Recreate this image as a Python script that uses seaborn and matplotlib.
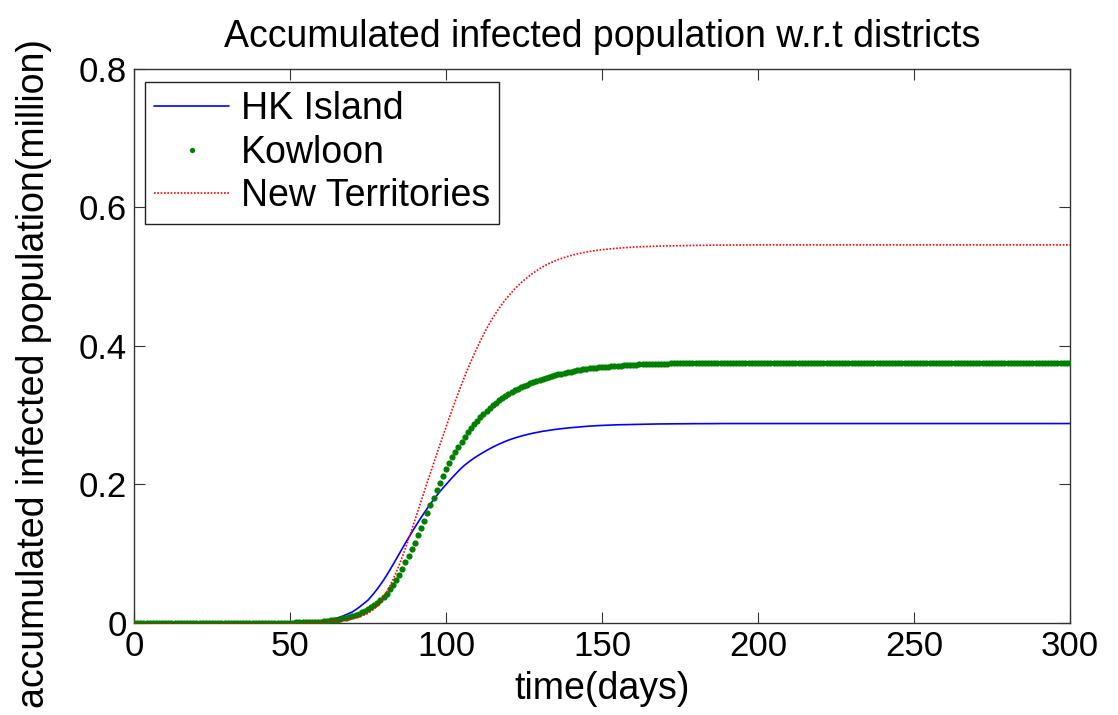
import matplotlib
matplotlib.use("Agg")
import matplotlib.pyplot as plt
from matplotlib.lines import Line2D
import seaborn as sns
import pandas as pd

# ---------------- data (one value per day from day 0) ----------------
series_names = ["HK Island", "Kowloon", "New Territories"]

hk_island = [
    0.0, 0.0, 0.0, 0.0, 0.0, 0.0, 0.0, 0.0, 0.0, 0.0,
    0.0, 0.0, 0.0, 0.0, 0.0, 0.0, 0.0, 0.0, 0.0, 0.0,
    0.0, 0.0, 0.0, 0.0, 0.0, 0.0, 0.0, 0.0, 0.0, 0.0,
    0.0, 0.0, 0.0, 0.0, 0.0, 0.0, 0.0, 0.0, 0.0, 0.0,
    0.0, 0.0, 0.0, 0.0, 0.0, 0.0, 0.0, 0.0, 0.0, 0.0,
    0.0005, 0.0006, 0.0007, 0.0008, 0.0009, 0.0010, 0.0013, 0.0017, 0.0021, 0.0025,
    0.0030, 0.0037, 0.0045, 0.0054, 0.0062, 0.0070, 0.0085, 0.0101, 0.0120, 0.0140,
    0.0160, 0.0190, 0.0222, 0.0257, 0.0293, 0.0330, 0.0381, 0.0435, 0.0493, 0.0555,
    0.0620, 0.0690, 0.0764, 0.0841, 0.0920, 0.1000, 0.1078, 0.1155, 0.1231, 0.1306,
    0.1380, 0.1452, 0.1522, 0.1590, 0.1656, 0.1720, 0.1781, 0.1839, 0.1895, 0.1949,
    0.2000, 0.2051, 0.2100, 0.2148, 0.2195, 0.2240, 0.2280, 0.2316, 0.2350, 0.2381,
    0.2410, 0.2438, 0.2465, 0.2491, 0.2516, 0.2540, 0.2562, 0.2583, 0.2603, 0.2622,
    0.2640, 0.2656, 0.2671, 0.2685, 0.2698, 0.2710, 0.2721, 0.2732, 0.2742, 0.2751,
    0.2760, 0.2768, 0.2775, 0.2782, 0.2789, 0.2795, 0.2801, 0.2806, 0.2811, 0.2816,
    0.2820, 0.2824, 0.2828, 0.2832, 0.2836, 0.2840, 0.2843, 0.2846, 0.2849, 0.2851,
    0.2853, 0.2855, 0.2857, 0.2859, 0.2860, 0.2862, 0.2863, 0.2865, 0.2866, 0.2867,
    0.2868, 0.2869, 0.2870, 0.2871, 0.2872, 0.2872, 0.2873, 0.2873, 0.2874, 0.2874,
    0.2875, 0.2875, 0.2876, 0.2876, 0.2876, 0.2877, 0.2877, 0.2877, 0.2878, 0.2878,
    0.2878, 0.2878, 0.2879, 0.2879, 0.2879, 0.2879, 0.2879, 0.2880, 0.2880, 0.2880,
    0.2880, 0.2880, 0.2880, 0.2880, 0.2880, 0.2880, 0.2880, 0.2880, 0.2880, 0.2880,
    0.2880, 0.2880, 0.2880, 0.2880, 0.2880, 0.2880, 0.2880, 0.2880, 0.2880, 0.2880,
    0.2880, 0.2880, 0.2880, 0.2880, 0.2880, 0.2880, 0.2880, 0.2880, 0.2880, 0.2880,
    0.2880, 0.2880, 0.2880, 0.2880, 0.2880, 0.2880, 0.2880, 0.2880, 0.2880, 0.2880,
    0.2880, 0.2880, 0.2880, 0.2880, 0.2880, 0.2880, 0.2880, 0.2880, 0.2880, 0.2880,
    0.2880, 0.2880, 0.2880, 0.2880, 0.2880, 0.2880, 0.2880, 0.2880, 0.2880, 0.2880,
    0.2880, 0.2880, 0.2880, 0.2880, 0.2880, 0.2880, 0.2880, 0.2880, 0.2880, 0.2880,
    0.2880, 0.2880, 0.2880, 0.2880, 0.2880, 0.2880, 0.2880, 0.2880, 0.2880, 0.2880,
    0.2880, 0.2880, 0.2880, 0.2880, 0.2880, 0.2880, 0.2880, 0.2880, 0.2880, 0.2880,
    0.2880, 0.2880, 0.2880, 0.2880, 0.2880, 0.2880, 0.2880, 0.2880, 0.2880, 0.2880,
    0.2880, 0.2880, 0.2880, 0.2880, 0.2880, 0.2880, 0.2880, 0.2880, 0.2880, 0.2880,
    0.2880,
]

kowloon = [
    0.0, 0.0, 0.0, 0.0, 0.0, 0.0, 0.0, 0.0, 0.0, 0.0,
    0.0, 0.0, 0.0, 0.0, 0.0, 0.0, 0.0, 0.0, 0.0, 0.0,
    0.0, 0.0, 0.0, 0.0, 0.0, 0.0, 0.0, 0.0, 0.0, 0.0,
    0.0, 0.0, 0.0, 0.0, 0.0, 0.0, 0.0, 0.0, 0.0, 0.0,
    0.0, 0.0, 0.0, 0.0, 0.0, 0.0, 0.0, 0.0, 0.0, 0.0,
    0.0005, 0.0006, 0.0007, 0.0008, 0.0009, 0.0010, 0.0012, 0.0014, 0.0016, 0.0018,
    0.0020, 0.0025, 0.0030, 0.0036, 0.0043, 0.0050, 0.0058, 0.0068, 0.0078, 0.0089,
    0.0100, 0.0117, 0.0135, 0.0155, 0.0177, 0.0200, 0.0227, 0.0256, 0.0288, 0.0326,
    0.0370, 0.0425, 0.0485, 0.0550, 0.0620, 0.0700, 0.0785, 0.0875, 0.0968, 0.1063,
    0.1160, 0.1264, 0.1370, 0.1478, 0.1588, 0.1700, 0.1808, 0.1914, 0.2018, 0.2120,
    0.2220, 0.2308, 0.2392, 0.2472, 0.2548, 0.2620, 0.2688, 0.2752, 0.2812, 0.2868,
    0.2920, 0.2970, 0.3017, 0.3061, 0.3102, 0.3141, 0.3178, 0.3213, 0.3246, 0.3277,
    0.3306, 0.3333, 0.3358, 0.3381, 0.3403, 0.3424, 0.3443, 0.3461, 0.3478, 0.3494,
    0.3510, 0.3525, 0.3539, 0.3552, 0.3565, 0.3577, 0.3589, 0.3600, 0.3610, 0.3620,
    0.3630, 0.3639, 0.3647, 0.3655, 0.3662, 0.3669, 0.3675, 0.3680, 0.3685, 0.3690,
    0.3695, 0.3699, 0.3703, 0.3707, 0.3711, 0.3714, 0.3717, 0.3720, 0.3723, 0.3726,
    0.3729, 0.3731, 0.3733, 0.3735, 0.3737, 0.3739, 0.3741, 0.3743, 0.3744, 0.3745,
    0.3746, 0.3747, 0.3748, 0.3749, 0.3750, 0.3750, 0.3751, 0.3751, 0.3752, 0.3752,
    0.3753, 0.3753, 0.3753, 0.3754, 0.3754, 0.3754, 0.3754, 0.3755, 0.3755, 0.3755,
    0.3755, 0.3755, 0.3755, 0.3755, 0.3755, 0.3755, 0.3755, 0.3755, 0.3755, 0.3755,
    0.3755, 0.3755, 0.3755, 0.3755, 0.3755, 0.3755, 0.3755, 0.3755, 0.3755, 0.3755,
    0.3755, 0.3755, 0.3755, 0.3755, 0.3755, 0.3755, 0.3755, 0.3755, 0.3755, 0.3755,
    0.3755, 0.3755, 0.3755, 0.3755, 0.3755, 0.3755, 0.3755, 0.3755, 0.3755, 0.3755,
    0.3755, 0.3755, 0.3755, 0.3755, 0.3755, 0.3755, 0.3755, 0.3755, 0.3755, 0.3755,
    0.3755, 0.3755, 0.3755, 0.3755, 0.3755, 0.3755, 0.3755, 0.3755, 0.3755, 0.3755,
    0.3755, 0.3755, 0.3755, 0.3755, 0.3755, 0.3755, 0.3755, 0.3755, 0.3755, 0.3755,
    0.3755, 0.3755, 0.3755, 0.3755, 0.3755, 0.3755, 0.3755, 0.3755, 0.3755, 0.3755,
    0.3755, 0.3755, 0.3755, 0.3755, 0.3755, 0.3755, 0.3755, 0.3755, 0.3755, 0.3755,
    0.3755, 0.3755, 0.3755, 0.3755, 0.3755, 0.3755, 0.3755, 0.3755, 0.3755, 0.3755,
    0.3755, 0.3755, 0.3755, 0.3755, 0.3755, 0.3755, 0.3755, 0.3755, 0.3755, 0.3755,
    0.3755,
]

new_territories = [
    0.0, 0.0, 0.0, 0.0, 0.0, 0.0, 0.0, 0.0, 0.0, 0.0,
    0.0, 0.0, 0.0, 0.0, 0.0, 0.0, 0.0, 0.0, 0.0, 0.0,
    0.0, 0.0, 0.0, 0.0, 0.0, 0.0, 0.0, 0.0, 0.0, 0.0,
    0.0, 0.0, 0.0, 0.0, 0.0, 0.0, 0.0, 0.0, 0.0, 0.0,
    0.0, 0.0, 0.0, 0.0, 0.0, 0.0, 0.0, 0.0, 0.0, 0.0,
    0.0, 0.0, 0.0, 0.0, 0.0, 0.0005, 0.0006, 0.0007, 0.0008, 0.0009,
    0.0010, 0.0013, 0.0017, 0.0021, 0.0025, 0.0030, 0.0035, 0.0041, 0.0047, 0.0053,
    0.0060, 0.0071, 0.0085, 0.0102, 0.0120, 0.0140, 0.0170, 0.0208, 0.0255, 0.0312,
    0.0380, 0.0452, 0.0534, 0.0626, 0.0728, 0.0838, 0.0956, 0.1080, 0.1209, 0.1344,
    0.1482, 0.1620, 0.1758, 0.1895, 0.2031, 0.2166, 0.2300, 0.2433, 0.2566, 0.2698,
    0.2829, 0.2958, 0.3085, 0.3209, 0.3330, 0.3448, 0.3562, 0.3672, 0.3778, 0.3880,
    0.3978, 0.4072, 0.4162, 0.4248, 0.4329, 0.4405, 0.4476, 0.4543, 0.4606, 0.4665,
    0.4720, 0.4772, 0.4821, 0.4867, 0.4910, 0.4950, 0.4987, 0.5022, 0.5055, 0.5086,
    0.5115, 0.5142, 0.5167, 0.5190, 0.5211, 0.5230, 0.5248, 0.5264, 0.5279, 0.5293,
    0.5306, 0.5318, 0.5329, 0.5339, 0.5348, 0.5357, 0.5365, 0.5372, 0.5379, 0.5385,
    0.5390, 0.5395, 0.5400, 0.5404, 0.5408, 0.5412, 0.5416, 0.5419, 0.5422, 0.5425,
    0.5428, 0.5430, 0.5432, 0.5434, 0.5436, 0.5438, 0.5440, 0.5441, 0.5442, 0.5443,
    0.5444, 0.5445, 0.5446, 0.5447, 0.5448, 0.5449, 0.5450, 0.5451, 0.5452, 0.5452,
    0.5453, 0.5453, 0.5454, 0.5454, 0.5455, 0.5455, 0.5456, 0.5456, 0.5457, 0.5457,
    0.5457, 0.5458, 0.5458, 0.5458, 0.5459, 0.5459, 0.5459, 0.5460, 0.5460, 0.5460,
    0.5460, 0.5460, 0.5460, 0.5460, 0.5460, 0.5460, 0.5460, 0.5460, 0.5460, 0.5460,
    0.5460, 0.5460, 0.5460, 0.5460, 0.5460, 0.5460, 0.5460, 0.5460, 0.5460, 0.5460,
    0.5460, 0.5460, 0.5460, 0.5460, 0.5460, 0.5460, 0.5460, 0.5460, 0.5460, 0.5460,
    0.5460, 0.5460, 0.5460, 0.5460, 0.5460, 0.5460, 0.5460, 0.5460, 0.5460, 0.5460,
    0.5460, 0.5460, 0.5460, 0.5460, 0.5460, 0.5460, 0.5460, 0.5460, 0.5460, 0.5460,
    0.5460, 0.5460, 0.5460, 0.5460, 0.5460, 0.5460, 0.5460, 0.5460, 0.5460, 0.5460,
    0.5460, 0.5460, 0.5460, 0.5460, 0.5460, 0.5460, 0.5460, 0.5460, 0.5460, 0.5460,
    0.5460, 0.5460, 0.5460, 0.5460, 0.5460, 0.5460, 0.5460, 0.5460, 0.5460, 0.5460,
    0.5460, 0.5460, 0.5460, 0.5460, 0.5460, 0.5460, 0.5460, 0.5460, 0.5460, 0.5460,
    0.5460, 0.5460, 0.5460, 0.5460, 0.5460, 0.5460, 0.5460, 0.5460, 0.5460, 0.5460,
    0.5460,
]

x_ticks = [0, 50, 100, 150, 200, 250, 300]
x_tick_labels = ["0", "50", "100", "150", "200", "250", "300"]
y_ticks = [0, 0.2, 0.4, 0.6, 0.8]
y_tick_labels = ["0", "0.2", "0.4", "0.6", "0.8"]

title_text = "Accumulated infected population w.r.t districts"
x_label = "time(days)"
y_label = "accumulated infected population(million)"

# ---------------- styling ----------------
sns.set_style("ticks")
plt.rcParams["font.family"] = ["Liberation Sans", "DejaVu Sans"]
plt.rcParams["xtick.direction"] = "in"
plt.rcParams["ytick.direction"] = "in"
plt.rcParams["text.color"] = "black"
plt.rcParams["axes.labelcolor"] = "black"
plt.rcParams["xtick.color"] = "black"
plt.rcParams["ytick.color"] = "black"

FS_TICK = 25
FS_LAB = 27
C_BLUE = (0.0, 0.0, 1.0)
C_GREEN = (0.0, 0.5, 0.0)
C_RED = (1.0, 0.0, 0.0)


def frame(values):
    # one value per day, starting at day 0
    return pd.DataFrame({"day": list(range(len(values))), "value": values})


fig = plt.figure(figsize=(11.18, 7.15), dpi=100)
ax = fig.add_axes([0.1199, 0.1287, 0.957 - 0.1199, 0.9035 - 0.1287])

sns.lineplot(data=frame(hk_island), x="day", y="value", color=C_BLUE, linewidth=1.2, ax=ax, zorder=3)
sns.scatterplot(data=frame(kowloon), x="day", y="value", color=C_GREEN, s=20, linewidth=0, ax=ax, zorder=4)
sns.lineplot(data=frame(new_territories), x="day", y="value", color=C_RED, linewidth=1.2,
             linestyle=(0, (1, 1)), ax=ax, zorder=5)

ax.set_xlim(0, 300)
ax.set_ylim(0, 0.8)
ax.set_xticks(x_ticks)
ax.set_xticklabels(x_tick_labels, fontsize=FS_TICK)
ax.set_yticks(y_ticks)
ax.set_yticklabels(y_tick_labels, fontsize=FS_TICK)
ax.tick_params(axis="both", which="both", direction="in", length=8, width=0.8,
               top=True, right=True, color="#333333", pad=5)
for sp in ax.spines.values():
    sp.set_visible(True)
    sp.set_linewidth(1.0)
    sp.set_color("#333333")

ax.set_title(title_text, fontsize=FS_LAB, pad=16)
ax.set_xlabel(x_label, fontsize=FS_LAB, labelpad=6)
ax.set_ylabel(y_label, fontsize=FS_LAB)
ax.yaxis.set_label_coords(-0.088, 0.451)

handles = [
    Line2D([0], [0], color=C_BLUE, linewidth=1.2),
    Line2D([0], [0], color=C_GREEN, linestyle="none", marker="o", markersize=3.8, markeredgewidth=0),
    Line2D([0], [0], color=C_RED, linewidth=1.2, linestyle=(0, (1, 1))),
]
leg = ax.legend(handles, series_names, loc="upper left", bbox_to_anchor=(0.0118, 0.9765),
                borderaxespad=0, fontsize=FS_LAB, frameon=True, fancybox=False,
                edgecolor="#222222", framealpha=1, handlelength=2.0, handletextpad=0.3,
                labelspacing=0.2, borderpad=0.25)
leg.get_frame().set_linewidth(1.0)

fig.savefig("out.png", dpi=100)
